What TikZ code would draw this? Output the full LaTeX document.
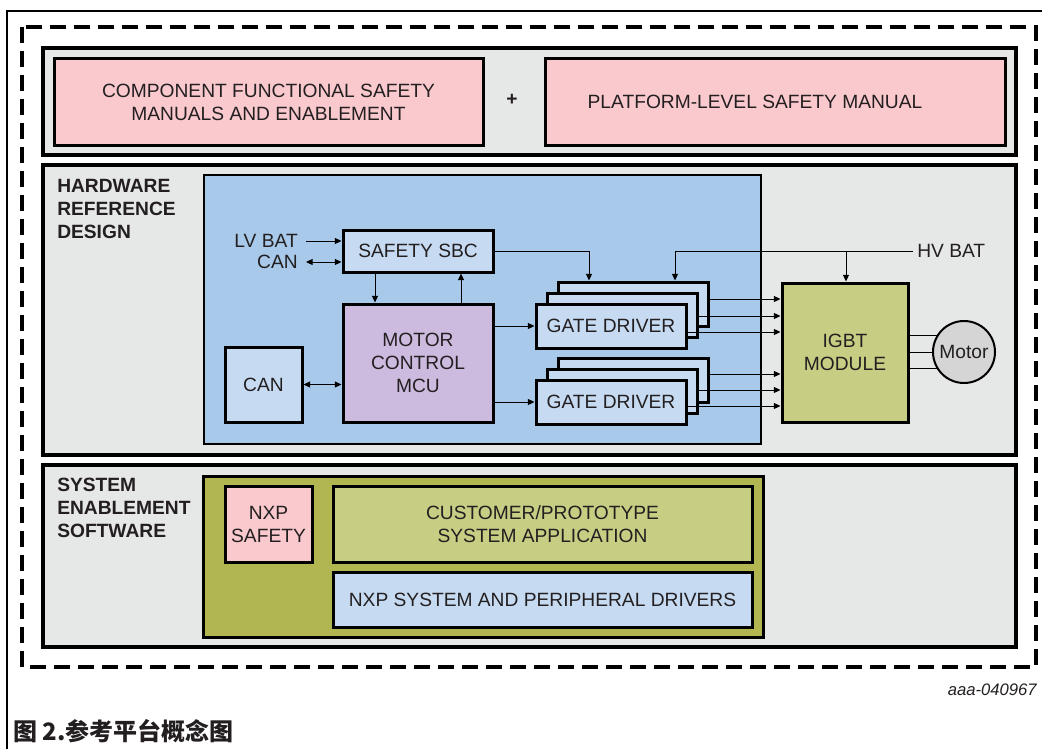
\documentclass[tikz,border=0pt]{standalone}
\usepackage{fontspec}
\setmainfont{Liberation Sans}
\newfontfamily\cjk{Noto Sans CJK SC}
\usetikzlibrary{arrows.meta}

\definecolor{ink}{HTML}{231F20}
\definecolor{panelgray}{HTML}{E6E7E7}
\definecolor{rosefill}{HTML}{F9C9CE}
\definecolor{hwblue}{HTML}{A8C9EA}
\definecolor{paleblue}{HTML}{C6DBF2}
\definecolor{lavender}{HTML}{CDBBDF}
\definecolor{olivelight}{HTML}{C8CD84}
\definecolor{olivedark}{HTML}{B1B651}
\definecolor{motorgray}{HTML}{D5D5D5}

\newcommand\mainsz{\fontsize{14.4pt}{17.25pt}\selectfont}

% block from corner (x1,y1) to corner (x2,y2), given in pixel units
\newcommand\blockat[7]{%
  \node[#2, minimum width={((#5)-(#3))*0.75pt}, minimum height={((#6)-(#4))*0.75pt}]
    (#1) at ({((#3)+(#5))/2},{((#4)+(#6))/2}) {#7};}

\tikzset{
  txt/.style={text=ink, inner sep=0pt, font=\mainsz, align=center},
  blk/.style={draw=black, line width=2.25pt, inner sep=0pt, align=center,
              text=ink, font=\mainsz},
  panel/.style={blk, fill=panelgray, line width=2.6pt},
  heading/.style={txt, font=\mainsz\bfseries, align=left, anchor=west},
  arr/.style={-{Triangle[length=5pt,width=4.5pt]}, line width=0.75pt},
  darr/.style={{Triangle[length=5pt,width=4.5pt]}-{Triangle[length=5pt,width=4.5pt]},
               line width=0.75pt},
  wire/.style={line width=0.75pt},
}

\begin{document}
\begin{tikzpicture}[x=0.75pt,y=-0.75pt]
\useasboundingbox (0,0) rectangle (1042,749);

% page frame and dashed outline of the platform
\draw[line width=1.5pt] (7,749) -- (7,11) -- (1042,11);
\draw[line width=2.4pt, dash pattern=on 12pt off 6pt] (22,27) rectangle (1036,667);

% ---- safety manuals row ----
\blockat{toppanel}{panel}{43}{48}{1016}{155}{}
\blockat{compman}{blk, fill=rosefill}{54}{59}{483}{145}{COMPONENT FUNCTIONAL SAFETY\\MANUALS AND ENABLEMENT}
\node[txt, font=\mainsz\bfseries] (plus) at (512,100) {+};
\blockat{platman}{blk, fill=rosefill, label={[txt, xshift=-15pt]center:PLATFORM-LEVEL SAFETY MANUAL}}{545}{59}{1005}{145}{}

% ---- hardware reference design ----
\blockat{hwpanel}{panel}{43}{165}{1016}{455}{}
\node[heading] (hwhead) at (57,209) {HARDWARE\\REFERENCE\\DESIGN};
\blockat{hwarea}{blk, fill=hwblue, line width=1.5pt}{204}{175}{761}{444}{}

\blockat{sbc}{blk, fill=paleblue}{343}{230}{493}{272}{SAFETY SBC}
\blockat{mcu}{blk, fill=lavender}{343}{304}{493}{422}{MOTOR\\CONTROL\\MCU}
\blockat{canbox}{blk, fill=paleblue}{225}{347}{302}{422}{CAN}

\node[txt, anchor=east] (lvbat) at (298,241) {LV BAT};
\node[txt, anchor=east] (canin) at (298,262) {CAN};

% upper gate driver stack
\blockat{gdA3}{blk, fill=paleblue}{558}{282}{708}{326}{}
\blockat{gdA2}{blk, fill=paleblue}{547}{293}{697}{337}{}
\blockat{gdA1}{blk, fill=paleblue}{536}{304}{686}{348}{GATE DRIVER}
% lower gate driver stack
\blockat{gdB3}{blk, fill=paleblue}{558}{358}{708}{402}{}
\blockat{gdB2}{blk, fill=paleblue}{547}{369}{697}{413}{}
\blockat{gdB1}{blk, fill=paleblue}{536}{380}{686}{424}{GATE DRIVER}

\blockat{igbt}{blk, fill=olivelight}{782}{283}{908}{422}{IGBT\\MODULE}
\node[circle, draw=black, line width=1.5pt, fill=motorgray, minimum size=46.5pt,
      inner sep=0pt, text=ink, font=\mainsz] (motor) at (964,352) {Motor};
\node[txt, anchor=west] (hvbat) at (917,251) {HV BAT};

% routing points
\coordinate (sbcTap) at (589,251);
\coordinate (hvTap) at (675,251);
\coordinate (hvIgbt) at (846,251);
\coordinate (xDown) at (375,0);
\coordinate (xUp) at (461,0);
\coordinate (yA3) at (0,299);
\coordinate (yA2) at (0,316);
\coordinate (yA1) at (0,332);
\coordinate (yB3) at (0,374);
\coordinate (yB2) at (0,390);
\coordinate (yB1) at (0,406);

% connectors
\draw[arr] ([xshift=6pt]lvbat.east) -- (sbc.west |- lvbat);
\draw[darr] ([xshift=6pt]canin.east) -- (sbc.west |- canin);
\draw[arr] (sbc.south -| xDown) -- (mcu.north -| xDown);
\draw[arr] (mcu.north -| xUp) -- (sbc.south -| xUp);
\draw[darr] (canbox.east) -- (mcu.west |- canbox);
\draw[arr] (mcu.east |- gdA1) -- (gdA1.west);
\draw[arr] (mcu.east |- gdB1) -- (gdB1.west);
\draw[arr] (sbc.east) -- (sbcTap) -- (gdA3.north -| sbcTap);
\draw[arr] ([xshift=-3pt]hvbat.west) -- (hvTap) -- (gdA3.north -| hvTap);
\draw[arr] (hvIgbt) -- (igbt.north -| hvIgbt);

\draw[arr] (gdA3.east |- yA3) -- (igbt.west |- yA3);
\draw[arr] (gdA2.east |- yA2) -- (igbt.west |- yA2);
\draw[arr] (gdA1.east |- yA1) -- (igbt.west |- yA1);
\draw[arr] (gdB3.east |- yB3) -- (igbt.west |- yB3);
\draw[arr] (gdB2.east |- yB2) -- (igbt.west |- yB2);
\draw[arr] (gdB1.east |- yB1) -- (igbt.west |- yB1);

\draw[wire] (igbt.east |- motor.149) -- (motor.149);
\draw[wire] (igbt.east |- motor.west) -- (motor.west);
\draw[wire] (igbt.east |- motor.211) -- (motor.211);

% ---- system enablement software ----
\blockat{swpanel}{panel}{43}{465}{1016}{647}{}
\node[heading] (swhead) at (57,508) {SYSTEM\\ENABLEMENT\\SOFTWARE};
\blockat{swarea}{blk, fill=olivedark}{203}{476}{763}{637}{}
\blockat{nxpsafe}{blk, fill=rosefill}{225}{486}{312}{562}{NXP\\SAFETY}
\blockat{custapp}{blk, fill=olivelight}{333}{486}{752}{562}{CUSTOMER/PROTOTYPE\\SYSTEM APPLICATION}
\blockat{nxpdrv}{blk, fill=paleblue}{333}{572}{752}{627}{NXP SYSTEM AND PERIPHERAL DRIVERS}

% figure id and caption
\node[txt, anchor=east, font=\fontsize{12.5pt}{14pt}\selectfont\itshape] (figid) at (1037,690) {aaa-040967};
\node[txt, anchor=west, font=\fontsize{18pt}{21pt}\selectfont\cjk\bfseries] (caption) at (13,731) {图 2.参考平台概念图};
\end{tikzpicture}
\end{document}
